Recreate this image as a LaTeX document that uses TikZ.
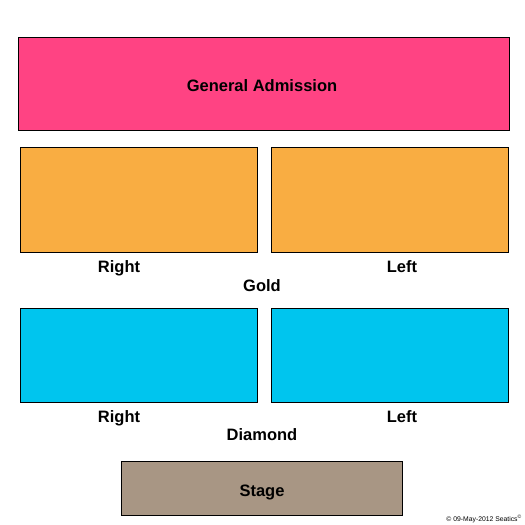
\documentclass[tikz,border=0pt]{standalone}
\usepackage{fontspec}
\setmainfont{Liberation Sans}
\definecolor{ga}{HTML}{FF4383}
\definecolor{gold}{HTML}{F9AD42}
\definecolor{dia}{HTML}{00C5EE}
\definecolor{stg}{HTML}{A89684}
\tikzset{sect/.style={draw=black,line width=1pt},
lbl/.style={font=\bfseries\fontsize{16.5}{18}\selectfont,text=black,text height=12pt,text depth=3.5pt,inner sep=0pt}}
\begin{document}
\begin{tikzpicture}[x=1pt,y=-1pt]
\useasboundingbox (0,0) rectangle (525,525);
\fill[white] (0,0) rectangle (525,525);
\draw[sect,fill=ga] (18,37) rectangle (509,130);
\draw[sect,fill=gold] (20,147) rectangle (257,252);
\draw[sect,fill=gold] (271,147) rectangle (508,252);
\draw[sect,fill=dia] (20,308) rectangle (257,402);
\draw[sect,fill=dia] (271,308) rectangle (508,402);
\draw[sect,fill=stg] (121,461) rectangle (402,515);
\node[lbl] (tga) at (262,87) {General Admission};
\node[lbl] (gr) at (119,268) {Right};
\node[lbl] (gl) at (402,268) {Left};
\node[lbl] (g) at (262,287) {Gold};
\node[lbl] (dr) at (119,418) {Right};
\node[lbl] (dl) at (402,418) {Left};
\node[lbl] (d) at (262,436) {Diamond};
\node[lbl] (s) at (262,492) {Stage};
\node[font=\fontsize{6.8}{7}\selectfont,anchor=east,inner sep=0pt] (c) at (522,519) {\textcopyright{} 09-May-2012 Seatics\textsuperscript{\tiny\textcopyright}};
\end{tikzpicture}
\end{document}
